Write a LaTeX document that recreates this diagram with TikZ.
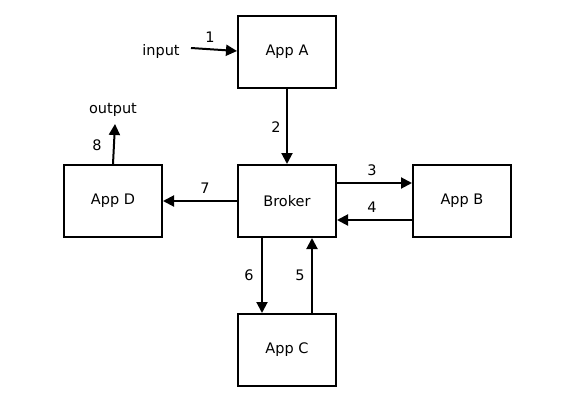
\documentclass[tikz,border=0pt]{standalone}
\usepackage{fontspec}
\setmainfont{DejaVu Sans}
\usetikzlibrary{arrows.meta}
\begin{document}
\begin{tikzpicture}[x=1pt,y=-1pt,
  box/.style={draw, line width=2pt, minimum width=98pt, minimum height=72pt, inner sep=0pt},
  conn/.style={line width=2pt, -{Triangle[length=11pt,width=11pt]}},
  lbl/.style={inner sep=0pt},
  every node/.style={font=\fontsize{14.5}{17}\selectfont}]
\useasboundingbox (0,0) rectangle (567,402);
\node[box] (A) at (287,52) {App A};
\node[box] (K) at (287,201) {Broker};
\node[box] (B) at (462,201) {App B};
\node[box] (D) at (113,201) {App D};
\node[box] (C) at (287,350) {App C};
\node[lbl] (in) at (161,51) {input};
\node[lbl] (out) at (113,110) {output};
\coordinate (inS) at (191,48);
\coordinate (outS) at (115,124);
\draw[conn] (inS) -- (A.west |- 0,51);
\draw[conn] (A) -- (K);
\draw[conn] (K.east |- 0,183) -- (B.west |- 0,183);
\draw[conn] (B.west |- 0,220) -- (K.east |- 0,220);
\draw[conn] (K.south -| 262,0) -- (C.north -| 262,0);
\draw[conn] (C.north -| 312,0) -- (K.south -| 312,0);
\draw[conn] (K) -- (D);
\draw[conn] (D.north -| 113,0) -- (outS);
\node[lbl] (l1) at (210,37) {1};
\node[lbl] (l2) at (276,127) {2};
\node[lbl] (l3) at (372,170) {3};
\node[lbl] (l4) at (372,207) {4};
\node[lbl] (l5) at (300,275) {5};
\node[lbl] (l6) at (249,275) {6};
\node[lbl] (l7) at (205,188) {7};
\node[lbl] (l8) at (97,145) {8};
\end{tikzpicture}
\end{document}
